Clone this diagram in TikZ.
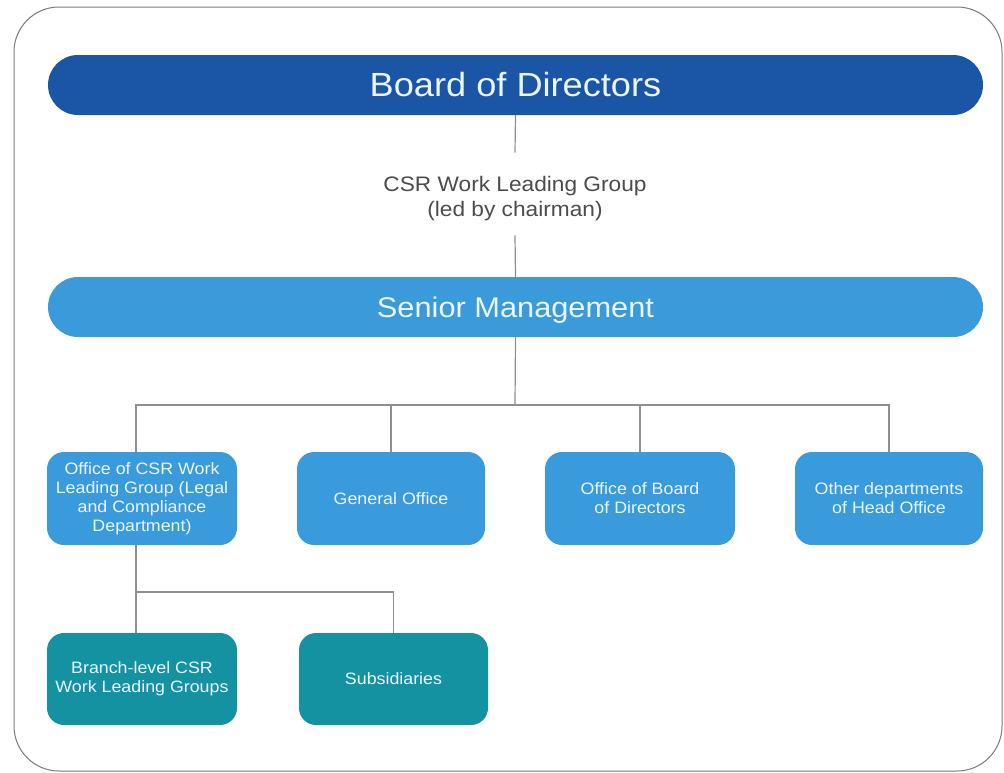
\documentclass[tikz,border=0pt]{standalone}
\usepackage{fontspec}
\setmainfont[FakeStretch=1.08]{Liberation Sans}
\definecolor{darkbar}{HTML}{1B55A6}
\definecolor{midbar}{HTML}{3A9ADA}
\definecolor{boxblue}{HTML}{3A9BDC}
\definecolor{teal}{HTML}{1592A1}
\definecolor{lighttext}{HTML}{EAF5FC}
\definecolor{linegray}{HTML}{8F8F8F}
\definecolor{framegray}{HTML}{7A7A7A}
\tikzset{
  bar/.style={rounded corners=30pt, minimum width=935pt, minimum height=60pt, inner sep=0pt, text=lighttext},
  unitbox/.style={rounded corners=17pt, minimum height=93pt, inner sep=0pt, text=lighttext, align=center, font=\fontsize{16.5}{19}\selectfont},
  conn/.style={draw=linegray, line width=1.2pt}
}
\begin{document}
\begin{tikzpicture}[x=1pt,y=-1pt]
\useasboundingbox (0,0) rectangle (1004,772);
\draw[framegray, line width=1pt, rounded corners=45pt] (14,7) rectangle (1002,771);
\node[bar, fill=darkbar, font=\fontsize{33.5}{38}\selectfont] (bod) at (515.5,85) {Board of Directors};
\node[bar, fill=midbar, text depth=0pt, font=\fontsize{28.5}{32}\selectfont] (sm) at (515.5,307) {Senior Management};
\node[align=center, text=black!70, font=\fontsize{21}{25}\selectfont, inner sep=0pt] (csr) at (515,199) {CSR Work Leading Group\\(led by chairman)};
\node[unitbox, fill=boxblue, minimum width=190pt] (b1) at (142,498.5) {Office of CSR Work\\Leading Group (Legal\\and Compliance\\Department)};
\node[unitbox, fill=boxblue, minimum width=188pt] (b2) at (391,498.5) {General Office};
\node[unitbox, fill=boxblue, minimum width=190pt] (b3) at (640,498.5) {Office of Board\\of Directors};
\node[unitbox, fill=boxblue, minimum width=188pt] (b4) at (889,498.5) {Other departments\\of Head Office};
\node[unitbox, fill=teal, minimum width=190pt, minimum height=92pt] (b5) at (142,679) {Branch-level CSR\\Work Leading Groups};
\node[unitbox, fill=teal, minimum width=189pt, minimum height=92pt] (b6) at (393.5,679) {Subsidiaries};
\coordinate (bus) at (515,405);
\coordinate (bus2) at (515,592);
\draw[conn] (bod.south) -- ([yshift=24pt]csr.north);
\draw[conn] ([yshift=-14pt]csr.south) -- (sm.north);
\draw[conn] (sm.south) -- (bus);
\draw[conn] ([xshift=-6pt]b1.north) -- ([xshift=-6pt]b1.north |- bus) -- (b4.north |- bus) -- (b4.north);
\draw[conn] (b2.north) -- (b2.north |- bus);
\draw[conn] (b3.north) -- (b3.north |- bus);
\draw[conn] ([xshift=-6pt]b1.south) -- ([xshift=-6pt]b1.south |- bus2) -- (b6.north |- bus2) -- (b6.north);
\draw[conn] ([xshift=-6pt]b5.north) -- ([xshift=-6pt]b5.north |- bus2);
\end{tikzpicture}
\end{document}
